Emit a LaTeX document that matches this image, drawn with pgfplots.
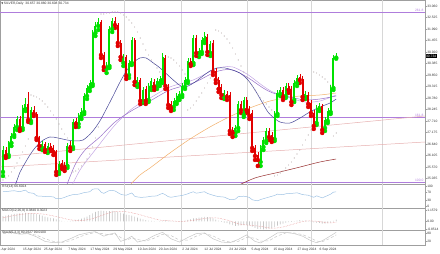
\documentclass[border=0pt]{standalone}
\usepackage{pgfplots}
\pgfplotsset{compat=1.18}
\usepackage{pgfplotstable}
\usepackage{fontspec}
\setmainfont{Liberation Sans}
\newfontfamily\dejavu{DejaVu Sans}
\newcommand{\mtfont}{\fontsize{3.3pt}{3.9pt}\selectfont}
\definecolor{bull}{RGB}{0,225,0}
\definecolor{bear}{RGB}{225,0,0}
\definecolor{fibc}{RGB}{175,125,220}
\definecolor{navyma}{RGB}{70,70,150}
\definecolor{violetma}{RGB}{150,110,200}
\definecolor{lavma}{RGB}{195,165,228}
\definecolor{orangema}{RGB}{242,175,105}
\definecolor{brownma}{RGB}{150,45,45}
\definecolor{trend}{RGB}{230,175,175}
\definecolor{rsic}{RGB}{160,195,228}
\definecolor{gridc}{RGB}{215,215,215}
\definecolor{sarc}{RGB}{190,180,180}
\definecolor{sigc}{RGB}{230,140,140}

\pgfplotstableread{
i o h l c
0 25.338 26.547 25.152 26.361
2 26.128 26.780 26.035 26.687
3 26.687 27.152 26.547 27.012
4 27.059 27.571 26.966 27.431
5 27.431 27.943 27.291 27.803
7 27.385 28.454 27.291 28.315
8 28.268 28.780 28.175 28.501
10 27.710 28.361 27.617 28.222
14 26.454 26.780 26.361 26.640
16 26.361 26.687 26.222 26.547
20 25.338 25.849 25.245 25.710
23 25.617 26.687 25.524 26.547
25 26.501 27.803 26.408 27.664
27 27.571 28.082 27.431 27.943
28 27.943 28.315 27.803 28.129
29 28.129 29.013 28.036 28.873
30 28.873 29.385 28.734 29.245
31 29.245 29.617 29.106 29.478
32 29.431 31.943 29.338 31.804
33 31.804 32.316 31.664 32.130
34 32.130 32.502 31.943 32.316
37 30.129 30.455 29.943 30.269
38 30.269 32.130 30.176 31.990
39 31.990 32.502 31.850 32.362
43 30.408 30.827 30.269 30.687
45 29.850 30.548 29.710 30.408
46 30.408 31.618 30.315 31.478
48 29.431 29.757 29.292 29.617
50 28.641 29.292 28.547 29.152
52 28.687 29.478 28.594 29.338
53 29.292 29.710 29.152 29.571
55 29.338 29.710 29.199 29.571
56 29.478 29.804 29.338 29.664
57 29.617 30.873 29.478 30.687
61 28.361 28.780 28.222 28.641
62 28.594 29.013 28.501 28.873
63 28.827 29.106 28.687 28.966
64 28.920 29.478 28.827 29.338
65 29.292 29.757 29.199 29.617
66 29.571 30.641 29.478 30.501
68 30.408 31.711 30.315 31.571
70 30.827 31.106 30.687 30.967
71 30.920 31.618 30.827 31.478
72 31.478 31.850 31.339 31.664
74 30.873 31.432 30.734 31.292
79 28.827 29.152 28.734 29.013
83 27.152 27.524 27.012 27.385
84 27.385 28.641 27.245 28.501
86 27.989 28.827 27.896 28.687
92 25.803 26.594 25.617 26.454
93 26.501 26.966 26.361 26.826
94 26.780 27.385 26.687 27.245
97 26.873 28.175 26.780 28.036
98 28.036 29.152 27.943 29.013
99 28.966 29.292 28.873 29.152
101 28.873 29.478 28.780 29.338
104 28.687 29.617 28.594 29.478
105 29.478 29.850 29.338 29.710
108 28.827 29.106 28.734 28.966
112 27.617 28.454 27.524 28.315
113 28.268 28.547 28.175 28.408
115 27.385 27.896 27.245 27.757
116 27.710 28.315 27.617 28.175
117 28.129 29.385 28.036 29.245
118 29.245 30.780 29.152 30.641
119 30.657 30.880 30.608 30.734
}\upbars

\pgfplotstableread{
i o h l c
1 26.361 26.501 25.989 26.082
6 27.803 27.943 27.245 27.338
9 28.501 29.059 27.664 27.757
11 28.222 28.408 27.943 28.036
12 28.036 28.129 26.826 26.919
13 26.919 27.012 26.408 26.547
15 26.640 26.733 26.268 26.361
17 26.547 26.687 26.315 26.408
18 26.454 26.594 26.128 26.268
19 26.268 26.361 25.198 25.338
21 25.756 25.896 25.477 25.617
22 25.663 25.803 25.384 25.524
24 26.594 26.780 26.315 26.454
26 27.710 27.850 27.431 27.571
35 32.316 32.409 30.641 30.780
36 30.780 30.920 30.083 30.222
40 32.362 32.548 32.036 32.176
41 32.176 32.269 31.199 31.339
42 31.339 31.478 30.548 30.687
44 30.687 30.780 29.664 29.804
47 31.478 31.571 29.385 29.524
49 29.617 29.710 28.501 28.641
51 29.199 29.338 28.501 28.641
54 29.524 29.664 29.152 29.292
58 30.641 30.780 29.199 29.338
59 29.292 29.431 28.315 28.454
60 28.501 28.641 28.175 28.315
67 30.501 30.641 30.269 30.362
69 31.571 31.711 30.734 30.873
73 31.618 31.757 30.780 30.920
75 31.339 31.478 29.850 29.990
76 30.036 30.176 29.478 29.617
77 29.617 29.757 29.059 29.199
78 29.292 29.431 28.780 28.920
80 28.966 29.106 28.687 28.827
81 28.920 29.059 27.105 27.245
82 27.291 27.431 26.966 27.152
85 28.501 28.641 28.082 28.222
87 28.687 28.827 28.082 28.222
88 28.268 28.408 27.803 27.943
89 28.082 28.222 26.315 26.454
90 26.454 26.594 25.896 26.082
91 26.128 26.268 25.617 25.896
95 27.245 27.385 26.826 26.966
96 27.059 27.198 26.733 26.873
100 29.152 29.292 28.687 28.827
102 29.338 29.478 29.013 29.152
103 29.199 29.338 28.454 28.594
106 29.757 29.897 29.478 29.617
107 29.664 29.804 28.687 28.827
109 28.920 29.059 28.361 28.501
110 28.547 28.687 27.943 28.082
111 28.082 28.222 27.338 27.478
114 28.408 28.501 27.152 27.291
}\downbars

\pgfplotstableread{
i v
0 0.55
1 0.62
2 0.70
3 0.76
4 0.80
5 0.84
6 0.85
7 0.87
8 0.90
9 0.88
10 0.88
11 0.85
12 0.80
13 0.72
14 0.62
15 0.52
16 0.44
17 0.38
18 0.32
19 0.22
20 0.12
21 0.05
22 0.00
23 0.02
24 0.05
25 0.10
26 0.16
27 0.22
28 0.30
29 0.40
30 0.50
31 0.68
32 0.85
33 1.00
34 1.10
35 1.15
36 1.12
37 1.08
38 1.10
39 1.12
40 1.10
41 1.02
42 0.92
43 0.82
44 0.72
45 0.66
46 0.62
47 0.50
48 0.40
49 0.30
50 0.22
51 0.15
52 0.10
53 0.06
54 0.03
55 0.02
56 0.03
57 0.10
58 0.12
59 0.08
60 0.03
61 -0.02
62 -0.03
63 -0.02
64 0.03
65 0.08
66 0.16
67 0.24
68 0.32
69 0.36
70 0.40
71 0.44
72 0.48
73 0.46
74 0.42
75 0.32
76 0.20
77 0.08
78 -0.04
79 -0.12
80 -0.18
81 -0.30
82 -0.40
83 -0.46
84 -0.44
85 -0.41
86 -0.38
87 -0.38
88 -0.42
89 -0.55
90 -0.68
91 -0.78
92 -0.82
93 -0.85
94 -0.80
95 -0.76
96 -0.72
97 -0.60
98 -0.45
99 -0.32
100 -0.22
101 -0.12
102 -0.06
103 -0.04
104 0.03
105 0.10
106 0.14
107 0.10
108 0.08
109 0.04
110 -0.02
111 -0.10
112 -0.14
113 -0.16
114 -0.22
115 -0.22
116 -0.19
117 -0.12
118 0.05
119 0.20
}\macdhist

\pgfplotsset{
  mt/.style={
    scale only axis, width=425pt, xmin=-1.0714, xmax=150.714,
    anchor=south west,
    axis line style={draw=gray!75, line width=0.4pt},
    xtick=\empty,
    ytick pos=right, yticklabel pos=right,
    tick align=outside, major tick length=1.5pt,
    tick style={draw=gray!75, line width=0.3pt},
    yticklabel style={font=\mtfont, text=black!80, inner sep=0.4pt, xshift=0.2pt},
    clip mode=individual,
    extra x ticks={19.64,43.21,63.57,87.14,110,135.36},
    extra x tick labels={},
    extra x tick style={xmajorgrids=true, major tick length=0pt},
    major grid style={draw=gridc, line width=0.4pt},
  },
  candle/.style 2 args={#1, only marks, mark=*, mark options={draw=none, fill=none}, forget plot,
    error bars/.cd, y dir=plus, y explicit, error mark=none,
    error bar style={draw=#1, solid, line width=#2}},
}

\begin{document}
\begin{tikzpicture}
\path[use as bounding box] (0,0) rectangle (440pt,254pt);

% ---------------- main price panel ----------------
\begin{axis}[mt, at={(0pt,70pt)}, height=184pt,
  ymin=24.779, ymax=33.339,
  ytick={25.035,25.570,26.105,26.640,27.175,27.710,28.245,28.780,29.315,29.850,30.385,30.920,31.455,31.990,32.525,33.060},
  yticklabels={25.035,25.570,26.105,26.640,27.175,27.710,28.245,28.780,29.315,29.850,30.385,30.920,31.455,31.990,32.525,33.060},
]
% fibonacci levels
\addplot[draw=fibc, line width=0.4pt] coordinates {(-1.0714,32.781) (150.714,32.781)};
\addplot[draw=fibc, line width=0.4pt] coordinates {(-1.0714,27.880) (150.714,27.880)};
\addplot[draw=fibc, line width=0.4pt] coordinates {(-1.0714,24.872) (150.714,24.872)};
% trend lines
\addplot[draw=trend, line width=0.5pt] coordinates {(-1.0714,26.035) (150.714,27.943)};
\addplot[draw=trend, line width=0.5pt] coordinates {(-1.0714,25.570) (150.714,26.733)};
% moving averages
\addplot[orangema, line width=0.5pt, smooth] coordinates {(44.3,24.593) (48.9,25.198) (52.5,25.524) (59.6,26.222) (66.8,26.873) (73.9,27.431) (79.3,27.803) (84.6,28.129) (90.0,28.408) (95.4,28.641) (100.7,28.780) (106.1,28.873) (113.2,28.920) (119,29.013)};
\addplot[brownma, line width=0.5pt, smooth] coordinates {(82.1,24.593) (90.0,25.059) (98.9,25.338) (106.1,25.570) (113.2,25.803) (119,25.942)};
\addplot[lavma, line width=0.5pt, smooth] coordinates {(23.9,24.500) (27.5,25.431) (32.9,26.361) (40.0,27.524) (46.4,28.315) (52.5,28.780) (59.6,29.292) (67.9,29.617) (75.0,30.083) (78.6,30.222) (82.1,30.222) (87.1,29.897) (92.9,29.338) (96.4,29.059) (102.5,28.780) (107.9,28.594) (113.2,28.641) (119,28.920)};
\addplot[violetma, line width=0.5pt, smooth] coordinates {(22.1,24.500) (25.7,25.663) (29.3,26.361) (34.6,26.966) (40.0,27.664) (46.4,28.222) (52.5,28.641) (59.6,29.152) (67.9,29.478) (75.0,29.943) (78.6,30.083) (82.1,30.083) (87.1,29.757) (92.9,29.245) (96.4,29.013) (102.5,28.827) (107.9,28.687) (113.2,28.734) (119,28.873)};
\addplot[navyma, line width=0.5pt, smooth] coordinates {(4.3,24.686) (6.1,25.338) (7.9,25.756) (9.6,26.128) (11.4,26.454) (13.9,26.780) (16.8,26.966) (19.6,26.919) (22.9,26.826) (25.7,26.780) (28.6,26.826) (31.8,27.198) (34.6,27.710) (37.1,28.315) (39.3,28.873) (41.8,29.524) (44.3,30.083) (46.8,30.455) (48.9,30.641) (51.1,30.641) (53.2,30.455) (56.1,30.176) (59.6,29.757) (62.5,29.431) (64.3,29.292) (66.1,29.338) (68.6,29.524) (71.4,29.804) (73.9,30.036) (76.4,30.176) (79.3,30.176) (81.8,30.083) (84.6,29.943) (87.5,29.617) (90.0,29.152) (92.5,28.594) (94.6,28.129) (96.4,27.896) (98.9,27.664) (102.5,27.617) (106.1,27.850) (109.6,28.129) (113.2,28.361) (116.8,28.547) (119,28.734)};
% parabolic SAR
\addplot[only marks, mark=*, mark size=0.3pt, sarc, mark options={draw=none, fill=sarc}] coordinates {
(0,24.965) (1,25.059) (2,25.152) (3,25.338) (4,25.524) (5,25.756) (6,25.989) (7,26.268) (8,26.547) (9,26.873)
(10,28.920) (11,28.873) (12,28.827) (13,28.734) (14,28.641) (15,28.501) (16,28.361) (17,28.175) (18,27.989) (19,27.803) (20,27.571) (21,27.338) (22,27.105) (23,26.919)
(25,25.338) (26,25.384) (27,25.477) (28,25.617) (29,25.756) (30,25.942) (31,26.175) (32,26.501) (33,26.919) (34,27.431)
(35,32.688) (36,32.688) (37,32.734) (38,32.734) (39,32.781) (40,32.781) (41,32.781) (42,32.734) (43,32.641) (44,32.548) (45,32.409) (46,32.269) (47,32.083) (48,31.850) (49,31.571) (50,31.292) (51,31.013) (52,30.780) (53,30.548) (54,30.362) (55,30.176) (56,29.990)
(59,30.687) (60,30.641) (61,30.548) (62,30.408) (63,30.269) (64,30.083) (65,29.897)
(66,28.222) (67,28.315) (68,28.454) (69,28.641) (70,28.827) (71,29.013) (72,29.245) (73,29.478) (74,29.710)
(76,31.943) (77,31.897) (78,31.804) (79,31.664) (80,31.525) (81,31.339) (82,31.106) (83,30.827) (84,30.548) (85,30.269) (86,29.990) (87,29.757) (88,29.524) (89,29.338) (90,29.152) (91,28.966) (92,28.780) (93,28.641) (94,28.501) (95,28.361) (96,28.222)
(97,25.152) (98,25.198) (99,25.291) (100,25.384) (101,25.524) (102,25.663) (103,25.803) (104,25.989) (105,26.175) (106,26.361) (107,26.594) (108,26.826) (109,27.059) (110,27.291)
(111,29.990) (112,29.943) (113,29.850) (114,29.757) (115,29.664) (116,29.524) (117,29.385)
(118,27.012) (119,27.152)};
% candles: wicks
\addplot[candle={bull}{0.5pt}]
  table[x=i, y=l, y error plus expr=\thisrow{h}-\thisrow{l}] {\upbars};
\addplot[candle={bear}{0.5pt}]
  table[x=i, y=l, y error plus expr=\thisrow{h}-\thisrow{l}] {\downbars};
% candles: bodies
\addplot[candle={bull}{2pt}]
  table[x=i, y=o, y error plus expr=\thisrow{c}-\thisrow{o}] {\upbars};
\addplot[candle={bear}{2pt}]
  table[x=i, y=c, y error plus expr=\thisrow{o}-\thisrow{c}] {\downbars};
% labels
\node[font=\mtfont, text=fibc, anchor=south east, inner sep=0.3pt] at (axis cs:150.3,32.781) {261.8};
\node[font=\mtfont, text=fibc, anchor=south east, inner sep=0.3pt] at (axis cs:150.3,27.880) {161.8};
\node[font=\mtfont, text=fibc, anchor=south east, inner sep=0.3pt] at (axis cs:150.3,24.872) {100.0};
\node[fill=black, text=white, font=\mtfont, inner sep=0.4pt, anchor=west] at (axis cs:150.9,30.734) {30.734};
\node[font=\mtfont, text=black!80, anchor=west, inner sep=0.3pt] at (rel axis cs:0.002,0.978) {{\dejavu\fontsize{2.6pt}{3pt}\selectfont ▼}\,SILVER,Daily\ \ 30.657 30.880 30.608 30.734};
\end{axis}

% ---------------- RSI ----------------
\begin{axis}[mt, at={(0pt,46pt)}, height=24pt,
  ymin=-7.32, ymax=109.76,
  ytick={0,30,70,100}, yticklabels={0,30,70,100},
]
\addplot[rsic, line width=0.5pt, smooth] coordinates {(0,72) (2,74) (4,77) (6,72) (8,80) (9,68) (11,64) (12,52) (14,50) (16,48) (18,47) (19,38) (21,40) (23,50) (25,58) (27,60) (29,68) (31,72) (32,84) (34,86) (35,70) (36,64) (38,78) (40,76) (41,68) (42,60) (44,55) (46,66) (47,50) (49,45) (51,46) (53,50) (55,52) (57,64) (59,48) (60,45) (62,50) (64,54) (66,62) (68,72) (69,65) (71,70) (72,72) (73,64) (75,55) (77,48) (79,46) (81,34) (83,36) (84,48) (86,50) (88,44) (89,33) (91,28) (92,34) (94,42) (97,54) (98,60) (100,58) (101,62) (104,65) (105,67) (107,58) (109,55) (111,45) (112,52) (114,42) (115,48) (117,60) (118,70) (119,71)};
\node[font=\mtfont, text=black!80, anchor=west, inner sep=0.3pt] at (rel axis cs:0.004,0.88) {RSI(14) 66.6024};
\end{axis}

% ---------------- MACD ----------------
\begin{axis}[mt, at={(0pt,24pt)}, height=22pt,
  ymin=-0.904, ymax=1.422,
  ytick={-0.8514,0,1.1579}, yticklabels={-0.8514,0.00,1.1579},
]
\addplot[ybar, bar width=0.7pt, fill=gray!45, draw=none] table[x=i, y=v] {\macdhist};
\addplot[sigc, line width=0.5pt, densely dotted, smooth] coordinates {(0,0.40) (4,0.62) (8,0.80) (12,0.84) (16,0.70) (20,0.45) (24,0.18) (28,0.10) (32,0.30) (36,0.72) (40,1.05) (44,1.02) (48,0.78) (52,0.45) (56,0.15) (60,0.06) (64,0.00) (68,0.12) (72,0.32) (76,0.38) (80,0.15) (84,-0.25) (88,-0.40) (92,-0.52) (96,-0.72) (100,-0.58) (104,-0.25) (108,0.04) (112,0.02) (116,-0.15) (119,-0.10)};
\node[font=\mtfont, text=black!80, anchor=west, inner sep=0.3pt] at (rel axis cs:0.004,0.86) {MACD(12,26,9) 0.3840 0.3023};
\end{axis}

% ---------------- Stochastic ----------------
\begin{axis}[mt, at={(0pt,9pt)}, height=15pt,
  ymin=-7.7, ymax=107.7,
  ytick={20,80}, yticklabels={20,80},
  xtick={1.43,10.36,17.86,26.43,34.64,42.86,51.43,58.93,66.79,75,83.93,91.79,100,108.57,116.07},
  xticklabels={1 Apr 2024,15 Apr 2024,25 Apr 2024,7 May 2024,17 May 2024,29 May 2024,10 Jun 2024,20 Jun 2024,2 Jul 2024,12 Jul 2024,24 Jul 2024,5 Aug 2024,15 Aug 2024,27 Aug 2024,6 Sep 2024},
  xtick pos=bottom,
  xticklabel style={font=\mtfont, text=black!80, inner sep=0.5pt, yshift=-0.6pt},
]
\addplot[gray!45, line width=0.5pt, densely dashed] coordinates {(0,80) (3,86) (6,82) (9,78) (12,68) (15,40) (18,20) (21,12) (24,25) (27,52) (30,75) (33,88) (36,78) (38,70) (40,78) (42,50) (44,30) (46,45) (48,35) (51,22) (54,45) (57,75) (60,65) (63,30) (66,30) (69,60) (72,82) (75,62) (78,30) (81,15) (84,20) (87,50) (90,45) (92,22) (95,25) (98,62) (101,85) (104,85) (107,72) (110,45) (112,22) (114,18) (116,35) (119,70)};
\addplot[gray!45, line width=0.5pt] coordinates {(0,85) (3,90) (6,75) (9,80) (12,55) (15,20) (18,10) (21,15) (24,40) (27,70) (30,85) (33,95) (36,60) (38,75) (40,85) (42,20) (44,35) (46,60) (48,15) (51,30) (54,65) (57,90) (60,40) (63,15) (66,50) (69,80) (72,85) (75,40) (78,15) (81,10) (84,35) (87,70) (90,20) (92,8) (95,45) (98,85) (101,90) (104,80) (107,60) (110,25) (112,10) (114,25) (116,50) (119,90)};
\node[font=\mtfont, text=black!80, anchor=west, inner sep=0.3pt] at (rel axis cs:0.004,0.8) {Stoch(5,3,3) 80.2627 90.0100};
\end{axis}
\end{tikzpicture}
\end{document}
